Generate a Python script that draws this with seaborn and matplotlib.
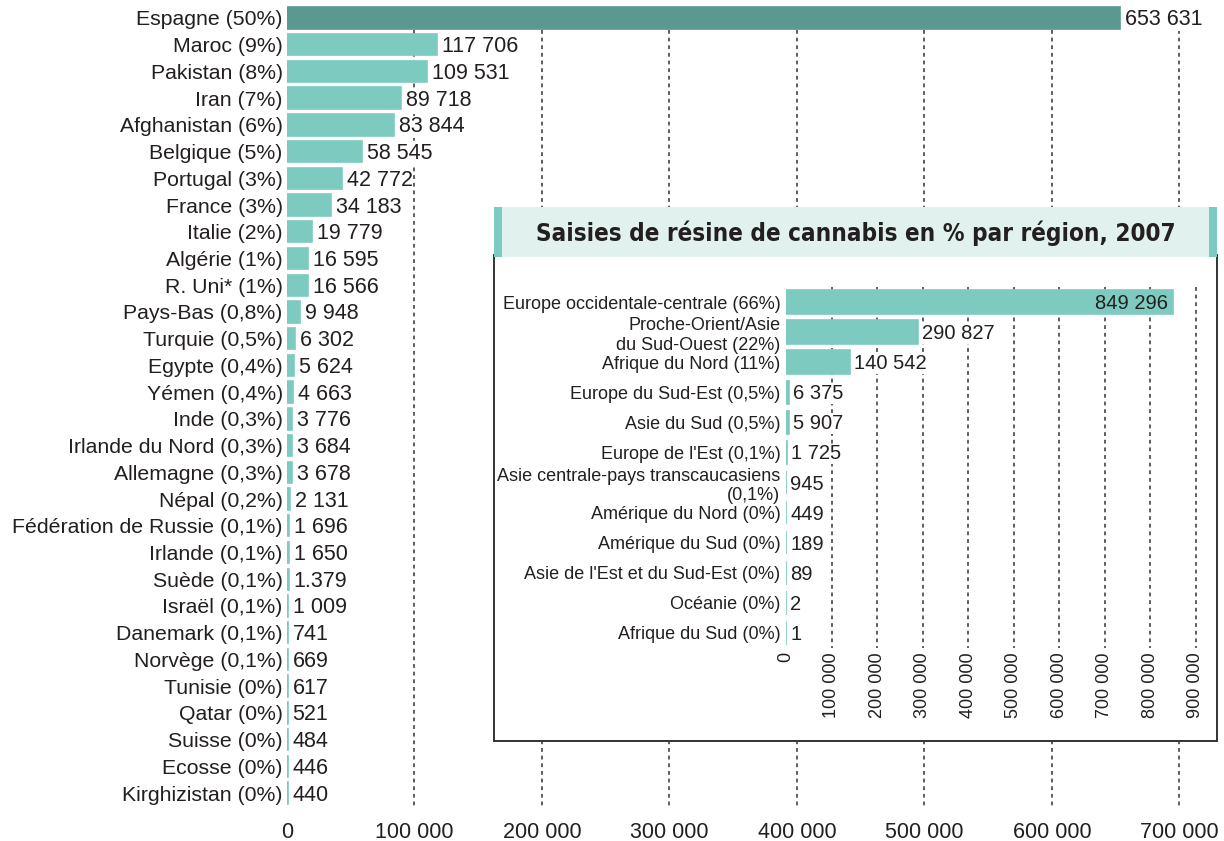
import matplotlib
matplotlib.use("Agg")
import matplotlib.pyplot as plt
from matplotlib.patches import Rectangle
from matplotlib import font_manager as fm
import numpy as np
import pandas as pd
import seaborn as sns

# ---------------- data ----------------
countries = [
    "Espagne (50%)", "Maroc (9%)", "Pakistan (8%)", "Iran (7%)", "Afghanistan (6%)",
    "Belgique (5%)", "Portugal (3%)", "France (3%)", "Italie (2%)", "Algérie (1%)",
    "R. Uni* (1%)", "Pays-Bas (0,8%)", "Turquie (0,5%)", "Egypte (0,4%)", "Yémen (0,4%)",
    "Inde (0,3%)", "Irlande du Nord (0,3%)", "Allemagne (0,3%)", "Népal (0,2%)",
    "Fédération de Russie (0,1%)", "Irlande (0,1%)", "Suède (0,1%)", "Israël (0,1%)",
    "Danemark (0,1%)", "Norvège (0,1%)", "Tunisie (0%)", "Qatar (0%)", "Suisse (0%)",
    "Ecosse (0%)", "Kirghizistan (0%)",
]
seizures = [
    653631, 117706, 109531, 89718, 83844, 58545, 42772, 34183, 19779, 16595,
    16566, 9948, 6302, 5624, 4663, 3776, 3684, 3678, 2131, 1696,
    1650, 1379, 1009, 741, 669, 617, 521, 484, 446, 440,
]
label_overrides = {"Suède (0,1%)": "1.379"}

regions = [
    "Europe occidentale-centrale (66%)", "Proche-Orient/Asie\ndu Sud-Ouest (22%)",
    "Afrique du Nord (11%)", "Europe du Sud-Est (0,5%)", "Asie du Sud (0,5%)",
    "Europe de l'Est (0,1%)", "Asie centrale-pays transcaucasiens\n(0,1%)",
    "Amérique du Nord (0%)", "Amérique du Sud (0%)", "Asie de l'Est et du Sud-Est (0%)",
    "Océanie (0%)", "Afrique du Sud (0%)",
]
region_seizures = [849296, 290827, 140542, 6375, 5907, 1725, 945, 449, 189, 89, 2, 1]

main_ticks = [0, 100000, 200000, 300000, 400000, 500000, 600000, 700000]
inset_ticks = [0, 100000, 200000, 300000, 400000, 500000, 600000, 700000, 800000, 900000]
title = "Saisies de résine de cannabis en % par région, 2007"

# ---------------- style ----------------
sns.set_theme(style="white")
plt.rcParams["font.family"] = ["Liberation Sans", "DejaVu Sans"]
TXT = "#231f20"
TEAL = "#7dcbc0"
DARK = "#5a9890"
GRID = "#333333"


def fmt(v):
    return f"{v:,}".replace(",", " ")


def find_condensed_bold():
    best = None
    for f in fm.fontManager.ttflist:
        name = f.name.lower()
        narrow = ("narrow" in name or "condensed" in name
                  or str(f.stretch) in ("condensed", "semi-condensed", "extra-condensed")
                  or "condensed" in f.fname.lower() or "narrow" in f.fname.lower())
        w = f.weight
        bold = (w == "bold") or (isinstance(w, int) and w >= 600) or "bold" in f.fname.lower()
        if narrow and bold and "oblique" not in f.fname.lower() and "italic" not in f.fname.lower():
            if best is None or "liberation" in name:
                best = f
    return best


W, H = 1224, 841
fig = plt.figure(figsize=(W / 100, H / 100), dpi=100)
fig.patch.set_facecolor("white")


def fx(px):
    return px / W


def fy(py):
    return 1 - py / H


# ---------------- main chart ----------------
ax = fig.add_axes([fx(287), fy(806.4), (1215 - 287) / W, (806.4 - 4.6) / H])
df = pd.DataFrame({"pays": countries, "val": seizures})
colors = [DARK] + [TEAL] * (len(countries) - 1)
sns.barplot(data=df, x="val", y="pays", hue="pays", palette=colors, legend=False,
            width=0.8, saturation=1, orient="h", ax=ax, zorder=2)
for p in ax.patches:
    p.set_edgecolor(p.get_facecolor())
    p.set_linewidth(1.2)

n = len(countries)
ax.set_xlim(0, 728000)
ax.set_ylim(n - 0.5, -0.5)
ax.vlines(main_ticks[1:], 0.45, n - 0.5, colors=GRID, linestyles=(0, (2.5, 2.5)),
          lw=1.1, zorder=0)
for sp in ax.spines.values():
    sp.set_visible(False)
ax.set_xlabel("")
ax.set_ylabel("")
ax.set_xticks(main_ticks)
ax.set_xticklabels([fmt(t) for t in main_ticks], fontsize=15.5, color=TXT)
ax.set_yticks(range(n))
ax.set_yticklabels(countries, fontsize=15.3, color=TXT)
ax.tick_params(axis="x", length=0, pad=11)
ax.tick_params(axis="y", length=0, pad=3)
ax.grid(False)

for i, (c, v) in enumerate(zip(countries, seizures)):
    ax.annotate(label_overrides.get(c, fmt(v)), xy=(v, i), xytext=(5, -7.5),
                textcoords="offset pixels", va="baseline", ha="left",
                fontsize=15.5, color=TXT, zorder=3,
                bbox=dict(fc="white", ec="none", pad=0.5))

# ---------------- inset ----------------
box = Rectangle((fx(494), fy(741)), (1217 - 494) / W, (741 - 255) / H,
                transform=fig.transFigure, facecolor="white", edgecolor="#333333",
                lw=1.4, zorder=2)
fig.patches.append(box)
band = Rectangle((fx(494), fy(257)), (1217 - 494) / W, (257 - 207) / H,
                 transform=fig.transFigure, facecolor="#e1f1ed", edgecolor="none",
                 zorder=3)
fig.patches.append(band)
for x0 in (494, 1209):
    strip = Rectangle((fx(x0), fy(257)), 8 / W, (257 - 207) / H,
                      transform=fig.transFigure, facecolor=TEAL, edgecolor="none",
                      zorder=3)
    fig.patches.append(strip)

cf = find_condensed_bold()
if cf is not None:
    tprops = fm.FontProperties(fname=cf.fname, size=19)
else:
    tprops = fm.FontProperties(family=["Liberation Sans"], weight="bold", size=19)
ttl = fig.text(fx(856), fy(233), title, ha="center", va="center",
               fontproperties=tprops, color=TXT, zorder=4)
fig.canvas.draw()
wpx = ttl.get_window_extent().width
if wpx > 0:
    ttl.set_fontsize(19 * 640 / wpx)

ax2 = fig.add_axes([fx(786), fy(648), (1205 - 786) / W, (648 - 287) / H])
ax2.set_zorder(5)
ax2.patch.set_alpha(0)
df2 = pd.DataFrame({"region": regions, "val": region_seizures})
sns.barplot(data=df2, x="val", y="region", color=TEAL, width=0.78, saturation=1,
            orient="h", ax=ax2, zorder=2)
for p in ax2.patches:
    p.set_edgecolor(TEAL)
    p.set_linewidth(1.2)
m = len(regions)
ax2.set_xlim(0, 920000)
ax2.set_ylim(m - 0.5, -0.5)
ax2.vlines(inset_ticks[1:], -0.5, m - 0.5, colors=GRID, linestyles=(0, (2.5, 2.5)),
           lw=1.1, zorder=0)
for sp in ax2.spines.values():
    sp.set_visible(False)
ax2.grid(False)
ax2.set_xlabel("")
ax2.set_ylabel("")
ax2.set_yticks(range(m))
ax2.set_yticklabels(regions, fontsize=13, color=TXT)
ax2.set_xticks(inset_ticks)
ax2.set_xticklabels([fmt(t) for t in inset_ticks], fontsize=13, color=TXT,
                    rotation=90, va="top", ha="center")
ax2.tick_params(axis="x", length=0, pad=3)
ax2.tick_params(axis="y", length=0, pad=4)

for i, v in enumerate(region_seizures):
    if i == 0:
        ax2.annotate(fmt(v), xy=(v, i), xytext=(-5, -7), textcoords="offset pixels",
                     va="baseline", ha="right", fontsize=14.5, color=TXT, zorder=3)
    else:
        ax2.annotate(fmt(v), xy=(v, i), xytext=(4, -7), textcoords="offset pixels",
                     va="baseline", ha="left", fontsize=14.5, color=TXT, zorder=3,
                     bbox=dict(fc="white", ec="none", pad=0.5))

fig.savefig("out.png", dpi=100, facecolor="white")
